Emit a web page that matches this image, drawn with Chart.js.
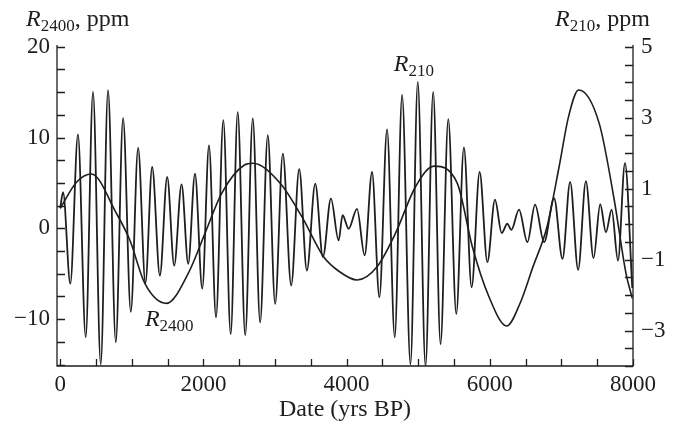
<!DOCTYPE html>
<html>
<head>
<meta charset="utf-8">
<script src="https://cdn.jsdelivr.net/npm/chart.js@4.4.1/dist/chart.umd.min.js"></script>
<style>
  html, body { margin: 0; padding: 0; background: #fff; }
</style>
</head>
<body>
<canvas id="chart" width="673" height="426"></canvas>
<script>
// ******************************************************** DATA

// R210 (right axis, ppm): extremes
var r210Years = [0, 40, 141, 248, 356, 458, 566, 668, 776, 878, 986, 1088, 1190, 1284, 1392, 1494, 1592, 1695, 1788, 1882,
  1984, 2078, 2176, 2278, 2381, 2479, 2584, 2689, 2792, 2899, 3002, 3109, 3226, 3338, 3445, 3562, 3669, 3781, 3888, 3944,
  4028, 4145, 4252, 4355, 4458, 4565, 4672, 4775, 4892, 4994, 5102, 5209, 5312, 5420, 5532, 5638, 5746, 5858, 5966, 6072,
  6166, 6245, 6301, 6408, 6525, 6632, 6758, 6898, 7015, 7122, 7234, 7342, 7449, 7542, 7622, 7702, 7790, 7888, 7990];
var r210Values = [0.45, 0.9, -1.68, 2.53, -3.19, 3.73, -3.95, 3.78, -3.33, 2.99, -2.47, 2.15, -1.66, 1.61, -1.45, 1.33, -1.17, 1.12, -1.12, 1.42,
  -1.82, 2.22, -2.63, 2.93, -3.10, 3.16, -3.13, 2.98, -2.77, 2.51, -2.25, 1.99, -1.73, 1.55, -1.31, 1.14, -0.93, 0.72, -0.46, 0.25,
  -0.13, 0.43, -0.88, 1.47, -2.06, 2.67, -3.19, 3.64, -3.95, 4.01, -4.0, 3.73, -3.38, 2.96, -2.53, 2.16, -1.78, 1.47, -1.07, 0.69,
  -0.25, 0.01, -0.16, 0.41, -0.51, 0.55, -0.51, 0.73, -0.98, 1.19, -1.29, 1.21, -0.96, 0.56, -0.23, 0.41, -1.03, 1.72, -1.8];

// R2400 (left axis, ppm)
var r2400Years = [0, 230, 435, 785, 972, 1182, 1485, 1788, 2022, 2255, 2572, 2689, 3072, 3375, 3678, 3902, 4145, 4425, 4682,
  4962, 5220, 5546, 5756, 5988, 6236, 6420, 6600, 6800, 6968, 7100, 7240, 7528, 7738, 7902, 7990];
var r2400Values = [2.2, 5.1, 5.98, 1.65, -1.29, -6.06, -8.26, -4.96, -0.55, 3.85, 6.97, 7.16, 4.96, 1.28, -3.13, -4.78, -5.69, -4.23, -0.55,
  4.58, 6.85, 4.96, -2.03, -7.53, -10.76, -8.3, -4.3, 0.2, 6.78, 12.3, 15.23, 11.56, 3.12, -4.96, -7.71];

// tick labels and minor tick steps
var yearTicks = [0, 2000, 4000, 6000, 8000];
var leftTicks = [-10, 0, 10, 20];
var rightTicks = [-3, -1, 1, 3, 5];
var yearStep = 500, leftStep = 2.5, rightStep = 0.5;

// ******************************************************** CHART

var FONT = '"Liberation Serif", "Times New Roman", serif';
var INK = '#1e1e1e';

function pts(xs, ys) {
  return xs.map(function (x, i) { return { x: x, y: ys[i] }; });
}
function plain(v) {
  return String(v).replace('-', '\u2212');
}
function fixTicks(list) {
  return function (scale) { scale.ticks = list.map(function (v) { return { value: v }; }); };
}

// R with italic letter and subscript
function rLabel(ctx, x, y, sub, rest) {
  ctx.font = 'italic 24px ' + FONT;
  ctx.fillText('R', x, y);
  var w = ctx.measureText('R').width;
  ctx.font = '17px ' + FONT;
  ctx.fillText(sub, x + w, y + 5);
  var w2 = ctx.measureText(sub).width;
  if (rest) {
    ctx.font = '24px ' + FONT;
    ctx.fillText(rest, x + w + w2, y);
  }
}

var frame = {
  id: 'frame',
  afterDatasetsDraw: function (chart) {
    var ctx = chart.ctx, a = chart.chartArea;
    var sx = chart.scales.x, sl = chart.scales.y, sr = chart.scales.y1;
    var v, p;
    ctx.save();
    ctx.strokeStyle = INK;
    ctx.lineWidth = 1.3;
    ctx.beginPath();
    ctx.moveTo(a.left, a.top);
    ctx.lineTo(a.left, a.bottom);
    ctx.lineTo(a.right, a.bottom);
    ctx.lineTo(a.right, a.top);
    for (v = -15; v <= 20; v += leftStep) {
      p = Math.round(sl.getPixelForValue(v)) + 0.5;
      ctx.moveTo(a.left, p); ctx.lineTo(a.left + 8, p);
    }
    for (v = -4; v <= 5; v += rightStep) {
      p = Math.round(sr.getPixelForValue(v)) + 0.5;
      ctx.moveTo(a.right, p); ctx.lineTo(a.right - 8, p);
    }
    for (v = 0; v <= 8000; v += yearStep) {
      p = Math.round(sx.getPixelForValue(v)) + 0.5;
      ctx.moveTo(p, a.bottom); ctx.lineTo(p, a.bottom - 7);
    }
    ctx.stroke();

    ctx.fillStyle = INK;
    ctx.textBaseline = 'alphabetic';
    ctx.textAlign = 'left';
    rLabel(ctx, 26, 26, '2400', ', ppm');
    rLabel(ctx, 555, 26, '210', ', ppm');
    rLabel(ctx, sx.getPixelForValue(4660), sl.getPixelForValue(17.36), '210');
    rLabel(ctx, sx.getPixelForValue(1183), sl.getPixelForValue(-10.73), '2400');
    ctx.restore();
  }
};

var tickFont = { family: FONT, size: 23 };

new Chart(document.getElementById('chart'), {
  type: 'line',
  data: {
    datasets: [{
      label: 'R210',
      data: pts(r210Years, r210Values),
      yAxisID: 'y1',
      borderColor: INK,
      borderWidth: 1.8,
      pointRadius: 0,
      cubicInterpolationMode: 'monotone',
      fill: false
    }, {
      label: 'R2400',
      data: pts(r2400Years, r2400Values),
      yAxisID: 'y',
      borderColor: INK,
      borderWidth: 1.6,
      pointRadius: 0,
      cubicInterpolationMode: 'monotone',
      fill: false
    }]
  },
  options: {
    responsive: false,
    animation: false,
    devicePixelRatio: 1,
    layout: { padding: { top: 45, left: 0, right: 0, bottom: 0 } },
    plugins: { legend: { display: false }, tooltip: { enabled: false } },
    scales: {
      x: {
        type: 'linear',
        min: -45, max: 8000,
        grid: { display: false, drawTicks: false },
        border: { display: false },
        afterBuildTicks: fixTicks(yearTicks),
        afterFit: function (s) { s.height = 60; },
        ticks: { font: tickFont, color: INK, padding: 5, maxRotation: 0, callback: plain },
        title: {
          display: true, text: 'Date (yrs BP)', color: INK,
          font: { family: FONT, size: 24 }, padding: { top: 0, bottom: 2 }
        }
      },
      y: {
        position: 'left',
        min: -15.16, max: 20.19,
        grid: { display: false, drawTicks: false },
        border: { display: false },
        afterBuildTicks: fixTicks(leftTicks),
        afterFit: function (s) { s.width = 57; },
        ticks: { font: tickFont, color: INK, padding: 7, callback: plain }
      },
      y1: {
        position: 'right',
        min: -4.0, max: 5.05,
        grid: { display: false, drawTicks: false },
        border: { display: false },
        afterBuildTicks: fixTicks(rightTicks),
        afterFit: function (s) { s.width = 40; },
        ticks: { font: tickFont, color: INK, padding: 8, callback: plain }
      }
    }
  },
  plugins: [frame]
});
</script>
</body>
</html>
